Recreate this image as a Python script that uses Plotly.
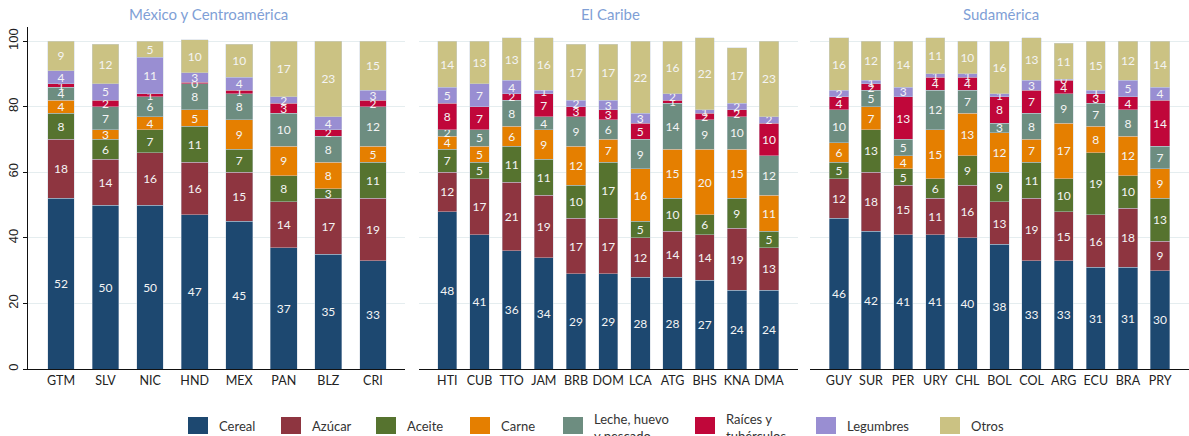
import plotly.graph_objects as go

categories = ["Cereal", "Azúcar", "Aceite", "Carne", "Leche, huevo y pescado",
              "Raíces y tubérculos", "Legumbres", "Otros"]
legend_labels = ["Cereal", "Azúcar", "Aceite", "Carne", "Leche, huevo<br>y pescado",
                 "Raíces y<br>tubérculos", "Legumbres", "Otros"]
colors = ["#1d4870", "#8e3540", "#56732f", "#e57f00", "#6d8d80",
          "#c0073a", "#998ed2", "#cbc283"]

# México y Centroamérica
mca_countries = ["GTM", "SLV", "NIC", "HND", "MEX", "PAN", "BLZ", "CRI"]
mca_cereal = [52, 50, 50, 47, 45, 37, 35, 33]
mca_azucar = [18, 14, 16, 16, 15, 14, 17, 19]
mca_aceite = [8, 6, 7, 11, 7, 8, 3, 11]
mca_carne = [4, 3, 4, 5, 9, 9, 8, 5]
mca_leche = [4, 7, 6, 8, 8, 10, 8, 12]
mca_raices = [1, 2, 1, 0.4, 1, 3, 2, 2]
mca_legumbres = [4, 5, 11, 3, 4, 2, 4, 3]
mca_otros = [9, 12, 5, 10, 10, 17, 23, 15]

# El Caribe
car_countries = ["HTI", "CUB", "TTO", "JAM", "BRB", "DOM", "LCA", "ATG", "BHS", "KNA", "DMA"]
car_cereal = [48, 41, 36, 34, 29, 29, 28, 28, 27, 24, 24]
car_azucar = [12, 17, 21, 19, 17, 17, 12, 14, 14, 19, 13]
car_aceite = [7, 5, 11, 11, 10, 17, 5, 10, 6, 9, 5]
car_carne = [4, 5, 6, 9, 12, 7, 16, 15, 20, 15, 11]
car_leche = [2, 5, 8, 4, 9, 6, 9, 14, 9, 10, 12]
car_raices = [8, 7, 2, 7, 3, 3, 5, 1, 2, 2, 10]
car_legumbres = [5, 7, 4, 1, 2, 3, 3, 2, 1, 2, 2]
car_otros = [14, 13, 13, 16, 17, 17, 22, 16, 22, 17, 23]

# Sudamérica
sud_countries = ["GUY", "SUR", "PER", "URY", "CHL", "BOL", "COL", "ARG", "ECU", "BRA", "PRY"]
sud_cereal = [46, 42, 41, 41, 40, 38, 33, 33, 31, 31, 30]
sud_azucar = [12, 18, 15, 11, 16, 13, 19, 15, 16, 18, 9]
sud_aceite = [5, 13, 5, 6, 9, 9, 11, 10, 19, 10, 13]
sud_carne = [6, 7, 4, 15, 13, 12, 7, 17, 8, 12, 9]
sud_leche = [10, 5, 5, 12, 7, 3, 8, 9, 7, 8, 7]
sud_raices = [4, 2, 13, 4, 4, 8, 7, 4, 3, 4, 14]
sud_legumbres = [2, 1, 3, 1, 1, 1, 3, 0.4, 1, 5, 4]
sud_otros = [16, 12, 14, 11, 10, 16, 13, 11, 15, 12, 14]

regions = [
    ("México y Centroamérica", mca_countries,
     [mca_cereal, mca_azucar, mca_aceite, mca_carne, mca_leche, mca_raices, mca_legumbres, mca_otros]),
    ("El Caribe", car_countries,
     [car_cereal, car_azucar, car_aceite, car_carne, car_leche, car_raices, car_legumbres, car_otros]),
    ("Sudamérica", sud_countries,
     [sud_cereal, sud_azucar, sud_aceite, sud_carne, sud_leche, sud_raices, sud_legumbres, sud_otros]),
]

W, H = 1189, 436
ML, MT, MB = 28, 27, 67
PW, PH = W - ML, H - MT - MB


def px_x(px):
    return (px - ML) / PW


def px_y(py):
    return (H - MB - py) / PH


domains = [(28, 405), (419, 798), (810, 1189)]
x_ranges = [[-0.74, 7.72], [-0.88, 10.9], [-0.9, 10.9]]
title_x = [208, 610, 1001]
FONT = "Lato"

fig = go.Figure()
for i, (title, countries, series) in enumerate(regions):
    sfx = "" if i == 0 else str(i + 1)
    for name, vals, col in zip(categories, series, colors):
        fig.add_trace(go.Bar(
            x=countries, y=vals, name=name,
            xaxis="x" + sfx, yaxis="y" + sfx,
            marker=dict(color=col, line=dict(color="rgba(200,210,220,0.55)", width=0.8)),
            texttemplate="%{y:.0f}", textposition="inside",
            insidetextanchor="middle", textangle=0,
            textfont=dict(family=FONT, size=12, color="#f4f4f4"),
            showlegend=False, hoverinfo="x+y+name",
        ))
    d0, d1 = domains[i]
    fig.update_layout(**{
        "xaxis" + sfx: dict(
            domain=[px_x(d0), px_x(d1)], range=x_ranges[i],
            showline=True, linecolor="#111", linewidth=1.2,
            ticks="", tickfont=dict(family=FONT, size=12.5, color="#222"),
            anchor="y" + sfx, fixedrange=True, automargin=False,
        ),
        "yaxis" + sfx: dict(
            range=[0, 104.3], tickvals=[0, 20, 40, 60, 80, 100],
            showgrid=True, gridcolor="#e5edef", gridwidth=1,
            zeroline=False, anchor="x" + sfx, automargin=False,
            showline=(i == 0), linecolor="#111", linewidth=1.2,
            ticks="outside" if i == 0 else "", ticklen=4, tickcolor="#111",
            showticklabels=(i == 0), tickangle=-90,
            tickfont=dict(family="Liberation Sans", size=13, color="#222"),
        ),
    })
    fig.add_annotation(
        x=px_x(title_x[i]), y=px_y(14), xref="paper", yref="paper",
        text=title, showarrow=False, xanchor="center", yanchor="middle",
        font=dict(family=FONT, size=15, color="#7f9fd6"),
    )

# legend drawn as boxes + labels
box_x = [188, 281, 376, 470, 563, 695, 816, 940]
for bx, lab, col in zip(box_x, legend_labels, colors):
    fig.add_shape(
        type="rect", xref="paper", yref="paper",
        x0=px_x(bx), x1=px_x(bx + 20), y0=px_y(417), y1=px_y(434),
        fillcolor=col, line=dict(width=0),
    )
    two_line = "<br>" in lab
    fig.add_annotation(
        x=px_x(bx + 29), y=px_y(409 if two_line else 426), xref="paper", yref="paper",
        text=lab, showarrow=False, xanchor="left",
        yanchor="top" if two_line else "middle", align="left",
        font=dict(family=FONT, size=13, color="#333"),
    )

fig.update_layout(
    barmode="stack", bargap=0.4,
    width=W, height=H,
    margin=dict(l=ML, r=0, t=MT, b=MB, autoexpand=False),
    plot_bgcolor="white", paper_bgcolor="white",
    uniformtext=dict(minsize=12, mode="show"),
    showlegend=False,
)

# page body has a default 8px margin; drop it so the figure sits at 0,0
fig.write_html("out.html", config={"displayModeBar": False},
               post_script="document.body.style.margin='0';document.body.style.overflow='hidden';")
